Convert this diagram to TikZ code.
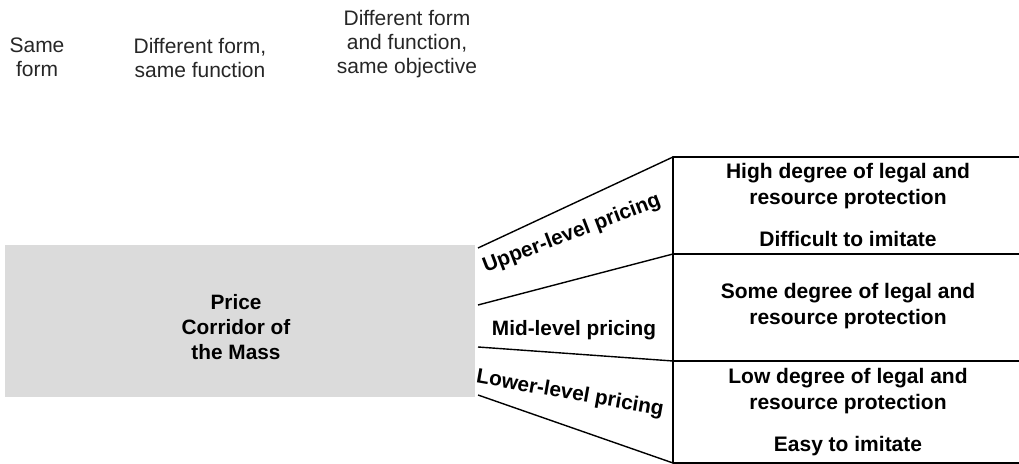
\documentclass[tikz,border=0pt]{standalone}
\usepackage{fontspec}
\setmainfont{Liberation Sans}
\begin{document}
\begin{tikzpicture}[x=.5pt,y=-.5pt,line join=round,line width=.7pt,
		toptext/.style={align=center,text=black!85,font=\fontsize{10.5}{11.8}\selectfont},
		boxtext/.style={align=center,inner sep=0pt,font=\bfseries\fontsize{10.5}{13}\selectfont},
		pricelbl/.style={inner sep=0pt,font=\bfseries\fontsize{10.4}{12}\selectfont}]
	\useasboundingbox (0,0) rectangle (1019,464);
	\def\xl{478} \def\xb{673} \def\xr{1019} % fan start, box left, right edge
	% column heads
	\node[toptext] (sameform) at (37,57) {Same\\form};
	\node[toptext] (samefun) at (200,58) {Different form,\\same function};
	\node[toptext] (sameobj) at (407,44) {Different form\\and function,\\same objective};
	% corridor
	\node[fill=black!14,minimum width=235pt,minimum height=76pt,inner sep=0pt] (corridor) at (240,321) {};
	\node[boxtext,font=\bfseries\fontsize{10.4}{12.6}\selectfont] (corrtext) at (236,327) {Price\\Corridor of\\the Mass};
	% fan
	\coordinate (u1) at (\xl,248); \coordinate (u2) at (\xb,157);
	\coordinate (m1) at (\xl,305); \coordinate (m2) at (\xb,254);
	\coordinate (n1) at (\xl,347); \coordinate (n2) at (\xb,361);
	\coordinate (b1) at (\xl,395); \coordinate (b2) at (\xb,463);
	\draw (u1)--(u2) (m1)--(m2) (n1)--(n2) (b1)--(b2);
	\draw (\xr,157)--(u2)--(b2)--(\xr,463) (m2)--(\xr,254) (n2)--(\xr,361);
	\node[pricelbl,rotate=21] (upper) at (572,234) {Upper-level pricing};
	\node[pricelbl] (mid) at (574,330) {Mid-level pricing};
	\node[pricelbl,rotate=-10] (lower) at (570,394) {Lower-level pricing};
	% protection
	\node[boxtext] (high) at (848,186) {High degree of legal and\\resource protection};
	\node[boxtext] (hard) at (848,239) {Difficult to imitate};
	\node[boxtext] (some) at (848,306) {Some degree of legal and\\resource protection};
	\node[boxtext] (low) at (848,391) {Low degree of legal and\\resource protection};
	\node[boxtext] (easy) at (848,446) {Easy to imitate};
\end{tikzpicture}
\end{document}
